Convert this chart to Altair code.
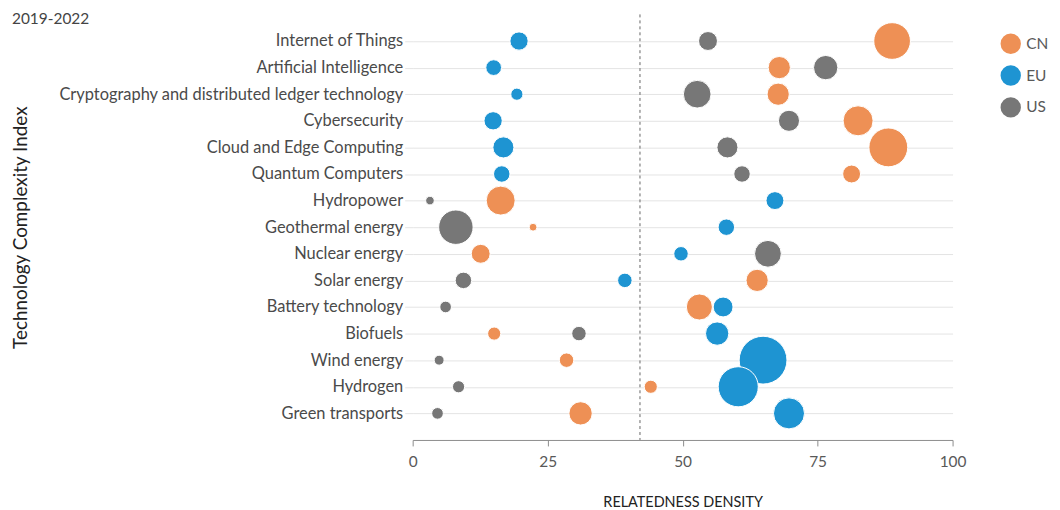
import altair as alt
import pandas as pd

technologies = [
    "Internet of Things", "Artificial Intelligence",
    "Cryptography and distributed ledger technology", "Cybersecurity",
    "Cloud and Edge Computing", "Quantum Computers", "Hydropower",
    "Geothermal energy", "Nuclear energy", "Solar energy",
    "Battery technology", "Biofuels", "Wind energy", "Hydrogen",
    "Green transports",
]
regions = ["CN", "EU", "US"]

cn_density = [88.8, 67.9, 67.7, 82.5, 88.1, 81.3, 16.3, 22.3, 12.6, 63.8, 53.1, 15.1, 28.5, 44.1, 31.1]
eu_density = [19.7, 15.0, 19.3, 14.9, 16.8, 16.5, 67.1, 58.1, 49.7, 39.3, 57.5, 56.4, 64.9, 60.3, 69.7]
us_density = [54.7, 76.5, 52.7, 69.7, 58.3, 61.0, 3.2, 8.0, 65.8, 9.4, 6.1, 30.8, 4.9, 8.5, 4.6]

cn_volume = [109, 40, 40, 73, 122, 26, 68, 5, 29, 40, 55, 14, 17, 14, 44]
eu_volume = [27, 20, 12, 27, 36, 22, 26, 22, 17, 17, 32, 44, 185, 130, 78]
us_volume = [29, 48, 62, 36, 36, 22, 6, 96, 58, 22, 11, 17, 8, 12, 11]

threshold = [42.1]
x_ticks = [0, 25, 50, 75, 100]
colors = ["#EE9055", "#1E94D2", "#777777"]

rows = []
for reg, dens, vol in zip(regions, [cn_density, eu_density, us_density],
                          [cn_volume, eu_volume, us_volume]):
    for t, d, v in zip(technologies, dens, vol):
        rows.append({"tech": t, "region": reg, "density": d, "volume": v})
df = pd.DataFrame(rows)

FONT = "Lato"

x_scale = alt.Scale(domain=[0, 100], nice=False, zero=True)
y_scale = alt.Scale(domain=technologies, padding=1)

points = alt.Chart(df).mark_circle(opacity=1, stroke="white", strokeWidth=1).encode(
    x=alt.X("density:Q", scale=x_scale,
            axis=alt.Axis(values=x_ticks, title="RELATEDNESS DENSITY", grid=False,
                          domainColor="#8c8c8c", tickColor="#8c8c8c", tickSize=6,
                          labelColor="#595959", labelFontSize=15.5, labelPadding=9,
                          labelFlush=False,
                          titleFontSize=14.5, titleFontWeight="normal", titleColor="#222222",
                          titlePadding=25, labelFont=FONT, titleFont=FONT)),
    y=alt.Y("tech:N", scale=y_scale, sort=technologies,
            axis=alt.Axis(title="Technology Complexity Index", grid=True,
                          gridColor="#e4e4e4", domain=False, tickColor="#e4e4e4",
                          tickSize=8, labelFontSize=16.5, labelColor="#4a4a4a",
                          labelPadding=2, labelLimit=500, titleFontSize=19,
                          titleFontWeight="normal", titleColor="#222222",
                          titleX=-394, titleBaseline="middle",
                          labelFont=FONT, titleFont=FONT)),
    color=alt.Color("region:N", scale=alt.Scale(domain=regions, range=colors),
                    legend=alt.Legend(title=None, orient="none", legendX=591, legendY=19,
                                      symbolType="circle", symbolSize=420,
                                      symbolStrokeWidth=0, labelFontSize=15.5,
                                      labelColor="#595959", rowPadding=11,
                                      labelFont=FONT, labelOffset=5)),
    size=alt.Size("volume:Q", scale=alt.Scale(domain=[0, 200], range=[0, 2500]),
                  legend=None),
    order=alt.Order("volume:Q", sort="descending"),
)

rule = alt.Chart(pd.DataFrame({"t": threshold})).mark_rule(
    color="#666666", strokeDash=[3, 3], strokeWidth=1
).encode(x=alt.X("t:Q", scale=x_scale))

chart = alt.layer(rule, points).properties(
    width=543, height=428,
    title=alt.TitleParams("2019-2022", anchor="start", frame="bounds", fontSize=15.5,
                          font=FONT, fontWeight="normal", color="#444444",
                          dx=0, dy=18),
    autosize=alt.AutoSizeParams(type="none"),
    padding={"left": 407, "top": 5, "right": 100, "bottom": 72},
).configure_view(stroke=None)

chart.save("out.html", embed_options={"renderer": "svg", "actions": False})
